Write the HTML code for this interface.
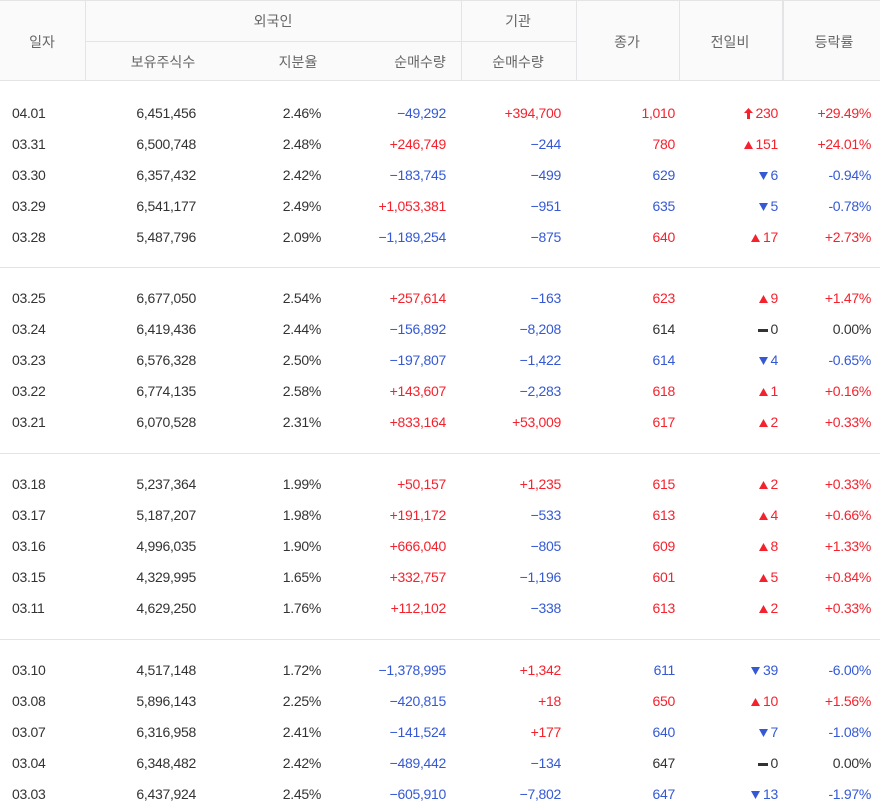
<!DOCTYPE html>
<html><head><meta charset="utf-8">
<style>
body{margin:0;width:880px;height:811px;background:#fff;overflow:hidden;font-family:"Liberation Sans","Noto Sans CJK KR",sans-serif;position:relative}
.hd{position:absolute;top:0;left:0;width:880px;height:81px;background:#fafafb;border-top:1px solid #e4e4e6;border-bottom:1px solid #e4e4e6;box-sizing:border-box}
.vl{position:absolute;width:1px;background:#e4e4e6}
.ht{position:absolute;font-size:14px;color:#666;text-align:center;transform:translate(-50%,-50%);white-space:nowrap}
.c{position:absolute;font-size:14px;color:#333;white-space:nowrap;transform:translateY(-50%);letter-spacing:-0.3px}
.r{color:#f5222d}.b{color:#3559d4}
.sep{position:absolute;left:0;width:880px;height:1px;background:#e4e4e6}
</style></head><body>
<div class="hd"></div>
<div class="vl" style="left:85px;top:0;height:81px"></div>
<div class="vl" style="left:461px;top:0;height:81px"></div>
<div class="vl" style="left:576px;top:0;height:81px"></div>
<div class="vl" style="left:679px;top:0;height:81px"></div>
<div class="vl" style="left:782px;top:0;height:81px;width:2px"></div>
<div class="sep" style="left:85px;width:491px;top:41px"></div>
<div class="ht" style="left:42px;top:42px">일자</div>
<div class="ht" style="left:273px;top:21px">외국인</div>
<div class="ht" style="left:518px;top:21px">기관</div>
<div class="ht" style="left:163px;top:62px">보유주식수</div>
<div class="ht" style="left:298px;top:62px">지분율</div>
<div class="ht" style="left:420px;top:62px">순매수량</div>
<div class="ht" style="left:518px;top:62px">순매수량</div>
<div class="ht" style="left:627px;top:42px">종가</div>
<div class="ht" style="left:730px;top:42px">전일비</div>
<div class="ht" style="left:834px;top:42px">등락률</div>
<div id="rows"></div>
<script>
const dates=["04.01","03.31","03.30","03.29","03.28","03.25","03.24","03.23","03.22","03.21","03.18","03.17","03.16","03.15","03.11","03.10","03.08","03.07","03.04","03.03"];
const holdings=["6,451,456","6,500,748","6,357,432","6,541,177","5,487,796","6,677,050","6,419,436","6,576,328","6,774,135","6,070,528","5,237,364","5,187,207","4,996,035","4,329,995","4,629,250","4,517,148","5,896,143","6,316,958","6,348,482","6,437,924"];
const ratios=["2.46%","2.48%","2.42%","2.49%","2.09%","2.54%","2.44%","2.50%","2.58%","2.31%","1.99%","1.98%","1.90%","1.65%","1.76%","1.72%","2.25%","2.41%","2.42%","2.45%"];
const foreignNet=["−49,292","+246,749","−183,745","+1,053,381","−1,189,254","+257,614","−156,892","−197,807","+143,607","+833,164","+50,157","+191,172","+666,040","+332,757","+112,102","−1,378,995","−420,815","−141,524","−489,442","−605,910"];
const instNet=["+394,700","−244","−499","−951","−875","−163","−8,208","−1,422","−2,283","+53,009","+1,235","−533","−805","−1,196","−338","+1,342","+18","+177","−134","−7,802"];
const closes=["1,010","780","629","635","640","623","614","614","618","617","615","613","609","601","613","611","650","640","647","647"];
const changes=[230,151,-6,-5,17,9,0,-4,1,2,2,4,8,5,2,-39,10,-7,0,-13];
const rates=["+29.49%","+24.01%","-0.94%","-0.78%","+2.73%","+1.47%","0.00%","-0.65%","+0.16%","+0.33%","+0.33%","+0.66%","+1.33%","+0.84%","+0.33%","-6.00%","+1.56%","-1.08%","0.00%","-1.97%"];
const box=document.getElementById('rows');
function cls(s){return s[0]=='+'?'r':(s[0]=='−'||s[0]=='-')?'b':'';}
function cell(txt,right,y,c,name){const d=document.createElement('div');d.className='c '+c;d.style.top=y+'px';
if(right===null){d.style.left='12px';}else{d.style.right=(880-right)+'px';}
d.innerHTML=txt;


box.appendChild(d);}
const groupTop=[113,298,484,670];
for(let g=1;g<4;g++){const s=document.createElement('div');s.className='sep';s.style.top=(groupTop[g]-31)+'px';


box.appendChild(s);}
dates.forEach((d,i)=>{
 const y=groupTop[Math.floor(i/5)]+(i%5)*31;
 cell(d,null,y,'','date-cell');
 cell(holdings[i],196,y,'','holdings-cell');
 cell(ratios[i],321,y,'','ratio-cell');
 cell(foreignNet[i],446,y,cls(foreignNet[i]),'foreign-net-cell');
 cell(instNet[i],561,y,cls(instNet[i]),'inst-net-cell');
 const ch=changes[i];
 const cc=ch>0?'r':ch<0?'b':'';
 cell(closes[i],675,y,cc,'close-cell');
 let icon;
 if(i===0) icon='<svg width="9" height="11" style="vertical-align:-1px;margin-right:3px"><path d="M4.5 0L9 5H6V11H3V5H0Z" fill="#f5222d"/></svg>';
 else if(ch>0) icon='<svg width="9" height="8" style="margin-right:3px"><path d="M4.5 0L9 8H0Z" fill="#f5222d"/></svg>';
 else if(ch<0) icon='<svg width="9" height="8" style="margin-right:3px"><path d="M0 0H9L4.5 8Z" fill="#3559d4"/></svg>';
 else icon='<svg width="10" height="8" style="margin-right:3px"><rect x="0" y="3" width="10" height="3" fill="#333"/></svg>';
 cell(icon+Math.abs(ch),778,y,cc,'change-cell');
 cell(rates[i],871,y,cls(rates[i]),'rate-cell');
});
</script>
</body></html>
